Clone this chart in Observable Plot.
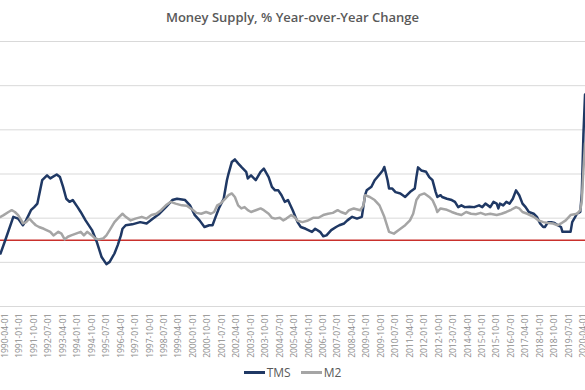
<!DOCTYPE html>
<html>
<head>
<meta charset="utf-8">
<script src="https://cdn.jsdelivr.net/npm/d3@7"></script>
<script src="https://cdn.jsdelivr.net/npm/@observablehq/plot@0.6"></script>
<style>
  body { margin: 0; background: #fff; width: 585px; height: 390px; overflow: hidden; font-family: "Open Sans", sans-serif; }
  #title { height: 34px; line-height: 34px; text-align: center; font-size: 13px; font-weight: 600; color: #595959; }
  #legend { height: 28px; display: flex; justify-content: center; align-items: center; gap: 10px; font-size: 12px; color: #595959; }
  .item { display: flex; align-items: center; gap: 2px; }
  .swatch { width: 21px; height: 3px; display: inline-block; }
</style>
</head>
<body>
<div id="title">Money Supply, % Year-over-Year Change</div>
<div id="chart"></div>
<div id="legend"></div>
<script>
const seriesNames = ["TMS", "M2"];
const seriesColors = ["#1f3864", "#a5a5a5"];

const tmsDates = ["1990-01","1990-04","1990-09","1990-12","1991-03","1991-05","1991-08","1991-10","1991-12","1992-03","1992-06","1992-08","1992-12","1993-02","1993-04","1993-06","1993-08","1993-10","1994-01","1994-03","1994-06","1994-10","1995-01","1995-04","1995-07","1995-09","1995-12","1996-02","1996-04","1996-05","1996-07","1996-11","1997-04","1997-08","1997-12","1998-04","1998-08","1998-12","1999-03","1999-08","1999-11","2000-02","2000-05","2000-08","2000-11","2001-01","2001-03","2001-05","2001-08","2001-10","2001-11","2002-01","2002-03","2002-05","2002-07","2002-10","2002-11","2003-01","2003-04","2003-07","2003-09","2003-12","2004-02","2004-04","2004-06","2004-08","2004-10","2004-12","2005-03","2005-06","2005-08","2005-11","2006-03","2006-05","2006-08","2006-10","2006-12","2007-03","2007-06","2007-08","2007-11","2008-01","2008-04","2008-07","2008-10","2008-12","2009-01","2009-04","2009-06","2009-09","2009-11","2009-12","2010-01","2010-02","2010-03","2010-05","2010-07","2010-10","2011-01","2011-04","2011-07","2011-08","2011-09","2011-11","2012-02","2012-04","2012-06","2012-08","2012-09","2012-11","2012-12","2013-03","2013-06","2013-08","2013-10","2013-12","2014-02","2014-05","2014-08","2014-11","2015-01","2015-03","2015-06","2015-08","2015-10","2015-11","2015-12","2016-02","2016-04","2016-06","2016-08","2016-10","2016-12","2017-02","2017-04","2017-06","2017-09","2017-11","2018-01","2018-03","2018-04","2018-06","2018-08","2018-10","2018-12","2019-02","2019-03","2019-05","2019-08","2019-09","2019-12","2020-02","2020-03","2020-04","2020-05"];
const tmsValues = [-3.0,0.0,5.3,4.9,3.4,4.5,6.8,7.5,8.3,13.6,14.7,14.0,14.9,14.3,12.1,9.4,8.7,9.1,7.5,6.4,4.5,2.3,-0.4,-3.8,-5.4,-4.9,-3.0,-1.1,1.1,2.6,3.4,3.6,4.1,3.8,4.9,6.0,7.5,9.1,9.4,9.1,7.9,5.7,4.5,3.0,3.4,3.4,5.3,7.2,9.4,13.6,15.1,17.7,18.3,17.4,16.6,15.5,14.0,14.7,13.6,15.5,16.2,14.3,12.1,11.3,11.3,10.2,8.7,9.1,6.8,4.1,3.0,2.6,1.9,2.6,1.9,0.9,1.1,2.3,3.0,3.4,3.8,4.5,5.3,4.9,5.3,10.2,11.3,12.1,13.6,14.9,15.8,16.6,15.1,13.6,11.7,11.7,10.9,10.6,9.8,10.9,11.7,14.3,16.5,15.8,15.5,14.3,13.6,10.9,9.8,10.2,9.8,9.4,9.1,8.7,7.5,7.9,7.5,7.6,7.5,7.9,7.5,8.3,7.5,8.7,8.3,7.2,8.3,7.9,8.7,8.3,9.4,11.3,10.2,8.3,7.5,6.4,6.0,5.3,3.8,3.0,3.0,4.1,4.1,3.9,3.4,3.0,1.9,1.9,1.9,4.1,6.0,6.4,10.6,24.0,33.0];

const m2Dates = ["1990-01","1990-03","1990-06","1990-08","1990-10","1990-12","1991-02","1991-03","1991-05","1991-07","1991-09","1991-11","1992-01","1992-04","1992-08","1992-10","1993-01","1993-03","1993-05","1993-07","1993-09","1993-12","1994-03","1994-05","1994-07","1994-10","1994-12","1995-02","1995-05","1995-07","1995-09","1995-12","1996-03","1996-05","1996-07","1996-10","1997-01","1997-05","1997-08","1997-11","1998-02","1998-05","1998-08","1998-11","1999-02","1999-06","1999-09","2000-01","2000-03","2000-06","2000-09","2000-12","2001-02","2001-04","2001-06","2001-09","2001-11","2002-01","2002-03","2002-05","2002-07","2002-09","2002-11","2003-01","2003-04","2003-07","2003-09","2003-12","2004-02","2004-04","2004-07","2004-09","2004-11","2005-02","2005-04","2005-06","2005-09","2005-12","2006-04","2006-07","2006-10","2007-01","2007-04","2007-07","2007-09","2007-12","2008-02","2008-05","2008-09","2008-11","2008-12","2009-03","2009-06","2009-09","2009-12","2010-03","2010-06","2010-09","2011-01","2011-04","2011-06","2011-08","2011-10","2012-01","2012-04","2012-06","2012-08","2012-09","2012-11","2013-03","2013-06","2013-09","2013-12","2014-03","2014-06","2014-09","2014-12","2015-03","2015-06","2015-10","2016-01","2016-04","2016-07","2016-10","2016-12","2017-02","2017-05","2017-09","2017-12","2018-03","2018-06","2018-09","2018-12","2019-02","2019-05","2019-08","2019-12","2020-02","2020-03","2020-04","2020-05"];
const m2Values = [5.3,5.7,6.4,6.8,6.4,5.7,4.5,3.8,4.1,4.9,4.1,3.4,3.0,2.6,1.9,1.1,1.9,1.5,0.2,0.8,1.1,1.5,1.9,1.1,1.9,1.1,0.4,0.2,0.4,1.1,2.3,4.1,5.3,6.0,5.3,4.5,4.9,5.3,4.9,5.7,6.0,6.8,7.9,8.7,8.3,7.9,7.8,6.8,6.2,6.0,6.4,6.0,6.4,7.9,8.3,9.4,10.2,10.6,9.8,7.9,7.2,7.5,6.8,6.4,6.8,7.2,6.8,6.0,5.1,4.9,5.1,4.5,4.9,5.7,5.3,4.4,4.1,4.4,5.1,5.1,5.7,6.0,6.2,6.8,6.4,6.0,6.8,7.2,6.8,7.9,10.2,9.8,9.1,7.9,5.3,1.9,1.5,2.3,3.4,4.5,6.0,9.1,10.2,10.6,9.8,9.1,7.5,6.4,7.2,6.9,6.4,6.0,5.7,6.4,6.0,5.9,6.2,5.8,6.0,5.7,6.0,6.4,6.9,7.5,7.2,6.4,6.0,5.3,4.5,4.1,3.9,3.8,3.4,3.8,4.5,5.7,6.0,6.8,9.0,16.0,22.0];

const gridValues = [-15, -5, 5, 15, 25, 35, 45];
const zeroLine = [0];
const tickLabels = ["1990-04-01","1991-01-01","1991-10-01","1992-07-01","1993-04-01","1994-01-01","1994-10-01","1995-07-01","1996-04-01","1997-01-01","1997-10-01","1998-07-01","1999-04-01","2000-01-01","2000-10-01","2001-07-01","2002-04-01","2003-01-01","2003-10-01","2004-07-01","2005-04-01","2006-01-01","2006-10-01","2007-07-01","2008-04-01","2009-01-01","2009-10-01","2010-07-01","2011-04-01","2012-01-01","2012-10-01","2013-07-01","2014-04-01","2015-01-01","2015-10-01","2016-07-01","2017-04-01","2018-01-01","2018-10-01","2019-07-01","2020-04-01"];

const pm = d3.utcParse("%Y-%m");
const pd = d3.utcParse("%Y-%m-%d");
const tms = tmsDates.map((d, i) => ({date: pm(d), value: tmsValues[i]}));
const m2 = m2Dates.map((d, i) => ({date: pm(d), value: m2Values[i]}));
const ticks = tickLabels.map(pd);

const chart = Plot.plot({
  width: 585,
  height: 324,
  marginTop: 7,
  marginBottom: 52,
  marginLeft: 0,
  marginRight: 0,
  x: {type: "utc", domain: [pd("1990-01-01"), pd("2020-05-10")]},
  y: {domain: [-15, 45], axis: null},
  style: {fontFamily: "Open Sans, sans-serif", background: "white", overflow: "hidden"},
  marks: [
    Plot.ruleY(gridValues, {stroke: "#d9d9d9", strokeWidth: 1}),
    Plot.axisX({ticks: ticks, tickFormat: d3.utcFormat("%Y-%m-%d"), tickRotate: -90, tickSize: 0, tickPadding: 7, fontSize: 8.5, fill: "#8c8c8c", label: null}),
    Plot.ruleY(zeroLine, {stroke: "#c9302c", strokeWidth: 1.5}),
    Plot.line(tms, {x: "date", y: "value", stroke: seriesColors[0], strokeWidth: 2.5, clip: true}),
    Plot.line(m2, {x: "date", y: "value", stroke: seriesColors[1], strokeWidth: 2.5, clip: true})
  ]
});
document.getElementById("chart").appendChild(chart);

const legend = document.getElementById("legend");
seriesNames.forEach((n, i) => {
  const it = document.createElement("span");
  it.className = "item";
  it.innerHTML = `<span class="swatch" style="background:${seriesColors[i]}"></span><span>${n}</span>`;
  legend.appendChild(it);
});
</script>
</body>
</html>
